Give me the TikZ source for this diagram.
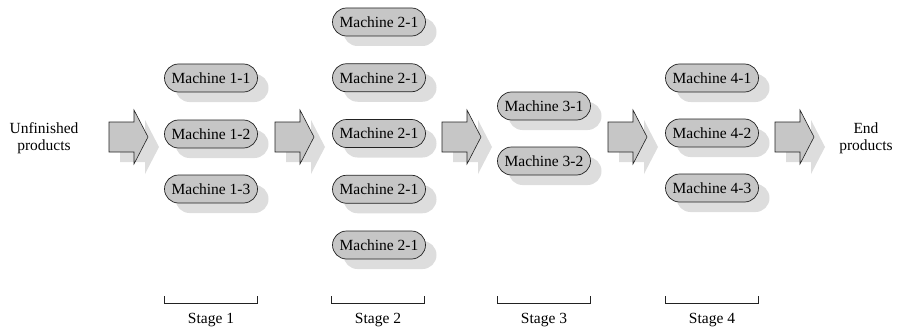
\documentclass[tikz,border=0pt]{standalone}
\usepackage{fontspec}
\setmainfont{Liberation Serif}
\usetikzlibrary{shadows}
\definecolor{boxgray}{HTML}{C6C6C6}
\definecolor{shadowgray}{HTML}{DDDDDD}
\definecolor{edgegray}{HTML}{222222}
\begin{document}
\begin{tikzpicture}[x=1pt,y=-1pt,
  every node/.style={font=\fontsize{15.5}{17}\selectfont, text=black},
  machine/.style={draw=edgegray, line width=0.7pt, fill=boxgray,
    rounded corners=14pt, minimum width=93pt, minimum height=28pt, inner sep=0pt,
    drop shadow={shadow xshift=11pt, shadow yshift=-10pt, fill=shadowgray, opacity=1}},
  caption/.style={align=center, inner sep=0pt},
  bracket/.style={draw=edgegray, line width=0.6pt},
  blockarrow/.pic={
    \fill[shadowgray] (11,-5) -- (36,-5) -- (36,-17) -- (50,10) -- (36,37) -- (36,25) -- (11,25) -- cycle;
    \draw[edgegray, line width=0.6pt, fill=boxgray, line join=miter]
      (0,-15) -- (25,-15) -- (25,-27) -- (39,0) -- (25,27) -- (25,15) -- (0,15) -- cycle;
  }]
\useasboundingbox (0,0) rectangle (902,329);

% raw material and finished goods
\node[caption] (in)  at (44,138)  {Unfinished\\products};
\node[caption] (out) at (866,138) {End\\products};

% flow arrows between the stages
\pic (a1) at (109,137) {blockarrow};
\pic (a2) at (275,137) {blockarrow};
\pic (a3) at (442,137) {blockarrow};
\pic (a4) at (608,137) {blockarrow};
\pic (a5) at (775,137) {blockarrow};

% stage 1
\node[machine] (m11) at (211,78)  {Machine 1-1};
\node[machine] (m12) at (211,134) {Machine 1-2};
\node[machine] (m13) at (211,189) {Machine 1-3};

% stage 2
\node[machine] (m21) at (379,22)    {Machine 2-1};
\node[machine] (m22) at (379,77.75) {Machine 2-1};
\node[machine] (m23) at (379,133.5) {Machine 2-1};
\node[machine] (m24) at (379,189.25){Machine 2-1};
\node[machine] (m25) at (379,245)   {Machine 2-1};

% stage 3
\node[machine] (m31) at (544,106) {Machine 3-1};
\node[machine] (m32) at (544,161) {Machine 3-2};

% stage 4
\node[machine] (m41) at (712,78)  {Machine 4-1};
\node[machine] (m42) at (712,133) {Machine 4-2};
\node[machine] (m43) at (712,188) {Machine 4-3};

% stage brackets and labels
\foreach \n/\cx in {1/211, 2/378, 3/544, 4/712} {
  \coordinate (bl\n) at ({\cx-46.5},296);
  \coordinate (br\n) at ({\cx+46.5},296);
  \draw[bracket] (bl\n) -- ++(0,7) -| (br\n);
  \node[caption] (s\n) at (\cx,320) {Stage \n};
}
\end{tikzpicture}
\end{document}
